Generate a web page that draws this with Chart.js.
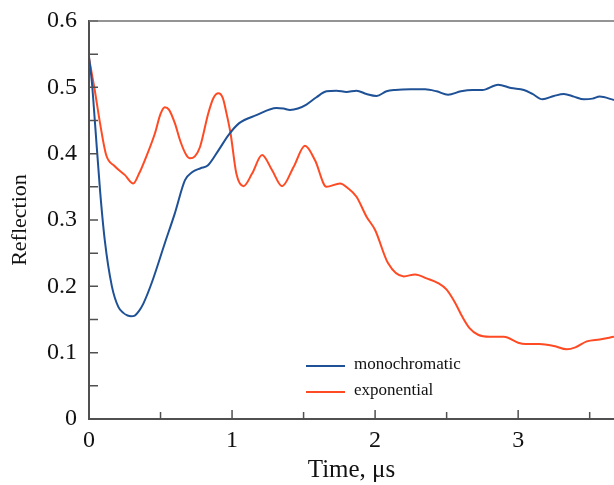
<!DOCTYPE html>
<html>
<head>
<meta charset="utf-8">
<script src="https://cdn.jsdelivr.net/npm/chart.js@4.4.0/dist/chart.umd.min.js"></script>
<style>
  html, body { margin: 0; padding: 0; background: #fff; }
  #wrap { width: 614px; height: 485px; }
</style>
</head>
<body>
<div id="wrap"><canvas id="reflChart" width="614" height="485"></canvas></div>
<script>
// Datos (tiempo en µs, reflexión)
var tMono = [0, 0.02, 0.042, 0.077, 0.11, 0.16, 0.205, 0.24, 0.27, 0.294, 0.32, 0.35, 0.38, 0.438, 0.53, 0.60, 0.671, 0.72, 0.78, 0.83, 0.905, 0.975, 1.05, 1.17, 1.31, 1.36, 1.405, 1.46, 1.52, 1.59, 1.66, 1.73, 1.80, 1.87, 1.94, 2.01, 2.08, 2.14, 2.25, 2.35, 2.43, 2.51, 2.60, 2.68, 2.75, 2.86, 2.95, 3.04, 3.10, 3.17, 3.25, 3.32, 3.39, 3.46, 3.52, 3.57, 3.67];
var rMono = [0.546, 0.508, 0.446, 0.345, 0.27, 0.20, 0.169, 0.16, 0.156, 0.155, 0.156, 0.163, 0.174, 0.205, 0.265, 0.31, 0.36, 0.372, 0.378, 0.382, 0.405, 0.428, 0.446, 0.458, 0.469, 0.468, 0.466, 0.468, 0.474, 0.485, 0.494, 0.495, 0.493, 0.495, 0.49, 0.487, 0.494, 0.496, 0.497, 0.497, 0.494, 0.489, 0.494, 0.496, 0.496, 0.504, 0.499, 0.496, 0.49, 0.482, 0.487, 0.49, 0.486, 0.482, 0.483, 0.486, 0.481];

var tExp = [0, 0.04, 0.077, 0.12, 0.18, 0.25, 0.31, 0.35, 0.39, 0.46, 0.50, 0.53, 0.56, 0.60, 0.64, 0.68, 0.706, 0.74, 0.776, 0.834, 0.87, 0.905, 0.935, 0.96, 0.99, 1.03, 1.08, 1.14, 1.21, 1.28, 1.35, 1.43, 1.51, 1.58, 1.66, 1.755, 1.81, 1.87, 1.94, 2.0, 2.09, 2.2, 2.28, 2.36, 2.44, 2.5, 2.56, 2.61, 2.66, 2.72, 2.8, 2.9, 3.0, 3.05, 3.15, 3.25, 3.34, 3.4, 3.48, 3.57, 3.67];
var rExp = [0.544, 0.496, 0.446, 0.398, 0.381, 0.368, 0.355, 0.37, 0.39, 0.43, 0.46, 0.47, 0.466, 0.446, 0.418, 0.398, 0.393, 0.396, 0.41, 0.461, 0.484, 0.491, 0.484, 0.462, 0.43, 0.37, 0.351, 0.37, 0.398, 0.375, 0.351, 0.38, 0.412, 0.39, 0.35, 0.355, 0.348, 0.335, 0.305, 0.285, 0.235, 0.215, 0.218, 0.212, 0.205, 0.195, 0.175, 0.154, 0.137, 0.127, 0.124, 0.124, 0.115, 0.113, 0.113, 0.11, 0.105, 0.108, 0.117, 0.12, 0.124];

var seriesNames = ['monochromatic', 'exponential'];
var xTickValues = [0, 1, 2, 3];
var xMinorValues = [0.5, 1.5, 2.5, 3.5];
var yTickValues = [0, 0.1, 0.2, 0.3, 0.4, 0.5, 0.6];
var yMinorValues = [0.05, 0.15, 0.25, 0.35, 0.45, 0.55];

var serif = "'Liberation Serif', 'DejaVu Serif', serif";
var axisColor = '#505050';
var textColor = '#111';

function toPoints(xs, ys) {
    return xs.map(function (x, i) { return { x: x, y: ys[i] }; });
}

// Marcas hacia dentro, borde superior y leyenda dentro del área
var decorPlugin = {
    id: 'decor',
    afterDraw: function (chart) {
        var ctx = chart.ctx;
        var area = chart.chartArea;
        var xs = chart.scales.x;
        var ys = chart.scales.y;
        ctx.save();
        ctx.strokeStyle = axisColor;
        ctx.lineWidth = 1.5;
        ctx.beginPath();
        xTickValues.concat(xMinorValues).forEach(function (v) {
            var px = xs.getPixelForValue(v);
            var len = xTickValues.indexOf(v) >= 0 ? 9 : 7;
            ctx.moveTo(px, area.bottom);
            ctx.lineTo(px, area.bottom - len);
        });
        yTickValues.concat(yMinorValues).forEach(function (v) {
            var py = ys.getPixelForValue(v);
            ctx.moveTo(area.left, py);
            ctx.lineTo(area.left + 9, py);
        });
        ctx.stroke();

        // borde superior
        ctx.strokeStyle = '#707070';
        ctx.beginPath();
        ctx.moveTo(area.left, area.top);
        ctx.lineTo(area.right, area.top);
        ctx.stroke();

        // leyenda
        var lx = 306, ly = 366;
        ctx.font = '17px ' + serif;
        ctx.textBaseline = 'middle';
        ctx.fillStyle = textColor;
        chart.data.datasets.forEach(function (ds, i) {
            var y = ly + i * 26;
            ctx.strokeStyle = ds.borderColor;
            ctx.lineWidth = 2;
            ctx.beginPath();
            ctx.moveTo(lx, y);
            ctx.lineTo(lx + 39, y);
            ctx.stroke();
            ctx.fillText(ds.label, lx + 48, y - 1);
        });
        ctx.restore();
    }
};

var ctx = document.getElementById('reflChart').getContext('2d');
var reflChart = new Chart(ctx, {
    type: 'line',
    data: {
        datasets: [
            {
                label: seriesNames[0],
                data: toPoints(tMono, rMono),
                borderColor: '#1f5196',
                borderWidth: 2,
                pointRadius: 0,
                cubicInterpolationMode: 'monotone'
            },
            {
                label: seriesNames[1],
                data: toPoints(tExp, rExp),
                borderColor: '#ff4b24',
                borderWidth: 2,
                pointRadius: 0,
                cubicInterpolationMode: 'monotone'
            }
        ]
    },
    options: {
        responsive: false,
        animation: false,
        events: [],
        layout: { padding: { top: 21, right: 0, left: 0, bottom: 0 } },
        plugins: {
            legend: { display: false },
            tooltip: { enabled: false }
        },
        scales: {
            x: {
                type: 'linear',
                min: 0,
                max: 3.67,
                afterBuildTicks: function (scale) {
                    scale.ticks = xTickValues.map(function (v) { return { value: v }; });
                },
                afterFit: function (scale) {
                    scale.height = 66;
                    scale.paddingLeft = 0;
                    scale.paddingRight = 0;
                },
                grid: { display: false, drawTicks: false },
                border: { display: true, color: axisColor, width: 2 },
                ticks: {
                    padding: 7,
                    color: textColor,
                    maxRotation: 0,
                    font: { family: serif, size: 24 }
                },
                title: {
                    display: true,
                    text: 'Time, μs',
                    color: textColor,
                    padding: { top: 0, bottom: 0 },
                    font: { family: serif, size: 25 }
                }
            },
            y: {
                min: 0,
                max: 0.6,
                afterBuildTicks: function (scale) {
                    scale.ticks = yTickValues.map(function (v) { return { value: v }; });
                },
                afterFit: function (scale) {
                    scale.width = 89;
                    scale.paddingTop = 0;
                    scale.paddingBottom = 0;
                },
                grid: { display: false, drawTicks: false },
                border: { display: true, color: axisColor, width: 2 },
                ticks: {
                    padding: 12,
                    color: textColor,
                    font: { family: serif, size: 24 },
                    callback: function (v) { return v === 0 ? '0' : v.toFixed(1); }
                },
                title: {
                    display: true,
                    text: 'Reflection',
                    color: textColor,
                    padding: { top: 7, bottom: 0 },
                    font: { family: serif, size: 22 }
                }
            }
        }
    },
    plugins: [decorPlugin]
});
</script>
</body>
</html>
